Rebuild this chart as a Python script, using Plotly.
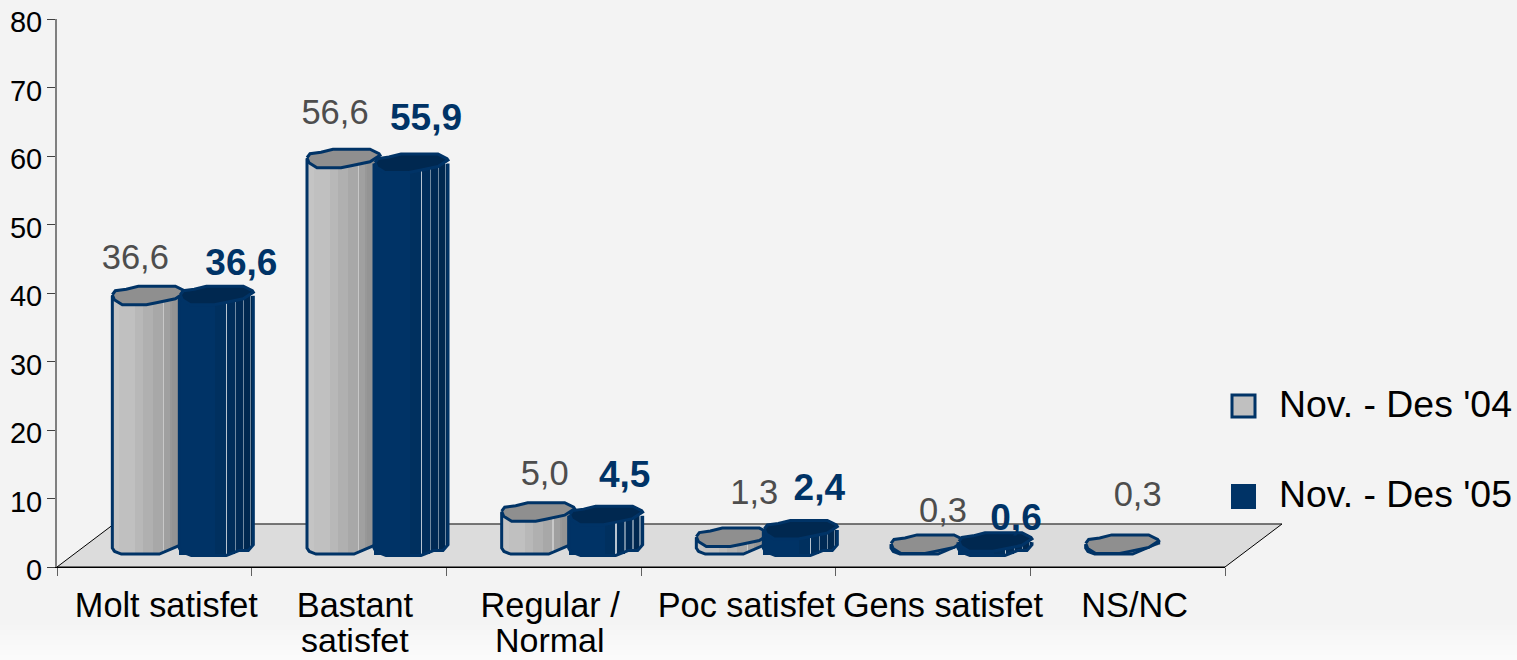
import numpy as np
import plotly.graph_objects as go

categories = ["Molt satisfet", "Bastant", "Regular /", "Poc satisfet", "Gens satisfet", "NS/NC"]
category_line2 = ["", "satisfet", "Normal", "", "", ""]
series_names = ["Nov. - Des '04", "Nov. - Des '05"]
values_04 = [36.6, 56.6, 5.0, 1.3, 0.3, 0.3]
values_05 = [36.6, 55.9, 4.5, 2.4, 0.6, None]
y_ticks = [0, 10, 20, 30, 40, 50, 60, 70, 80]

# layout constants (pixels)
W, H = 1517, 660
L, R, T, B = 57, 1225, 19, 567
PX_X = (R - L) / 6
PX_Y = (B - T) / 80
FLOOR_LIFT = 3.0            # value-units the 3D bars stand above the axis
NAVY, GREY = "#003366", "#c0c0c0"

# label placement relative to the bar (px along category, value units above bar)
label_dx_04 = [-19, -14, 1, 16, 10, 10]
label_lift_04 = [8.1, 9.3, 8.3, 9.1, 7.5, 9.8]
label_dx_05 = [87, 77, 81, 81, 83, 0]
label_lift_05 = [7.4, 9.3, 8.5, 8.7, 6.2, 0]
tick_label_dx = [12, 6, 6.5, 8, 10, 7]

# 3D silhouette, px relative to the bar centre
cap = [(-36, -1), (-33, -5), (-22, -6.5), (-10, -9.5), (27, -9.5), (36, -5), (37, -3.5),
       (27, 3), (8, 7), (-2, 9), (-26, 9), (-34, 4), (-36, -1)]
lower_04 = [(-36, 1.7), (-33.7, 5), (-27, 7.6), (11, 7.6), (23, 2.7), (37, -3.5)]
lower_05 = [(-37, 1.7), (-35, 5), (-25, 9), (10, 9), (23, 4), (32, 4), (37, -1.7)]

strips_04 = [(-36, -29, "#c4c4c4"), (-29, -13, "#c0c0c0"), (-13, -5, "#b8b8b8"), (-5, 5, "#b0b0b0"),
             (5, 15, "#a8a8a8"), (15, 16, "#c8c8c8"), (16, 22, "#a0a0a0"), (22, 24, "#989898"),
             (24, 30, "#949494"), (30, 37, "#8c8c8c")]
strips_05 = [(-37, -1, "#003366"), (-1, 10, "#00305f"), (10, 11, "#b8c4d0"), (11, 19, "#002d5a"),
             (19, 20, "#6f88a0"), (20, 27, "#002a55"), (27, 28, "#6f88a0"), (28, 34, "#002850"),
             (34, 35, "#6f88a0"), (35, 37, "#002548")]
bottom_bands = ["#f4f4f4", "#f5f5f5", "#f6f6f6", "#f7f7f7", "#f8f8f8", "#f9f9f9", "#fafafa", "#fbfbfb"]


def fmt(v):
    return f"{v:.1f}".replace(".", ",")


def cx(i, off):
    return i + off / PX_X


def lift(px):
    return -px / PX_Y


def add_series(fig, values, name, centre_px, half, strips, lower, face, cap_col, xa, ya, txtcol, bold, dxs, lifts):
    ids = [i for i, v in enumerate(values) if v is not None]
    vals = [values[i] for i in ids]
    fig.add_trace(go.Bar(x=[cx(i, centre_px) for i in ids], y=vals, base=[FLOOR_LIFT] * len(ids),
                         width=[2 * half / PX_X] * len(ids), marker=dict(color=face, line=dict(width=0)),
                         name=name, xaxis=xa, yaxis=ya, showlegend=False))
    lx, ly = zip(*lower)
    for a, b, col in strips:
        m = (a + b) / 2
        fig.add_trace(go.Bar(x=[cx(i, centre_px + m) for i in ids],
                             y=[v - lift(float(np.interp(m, lx, ly))) for v in vals],
                             base=[FLOOR_LIFT + lift(float(np.interp(m, lx, ly)))] * len(ids),
                             width=[(b - a) / PX_X] * len(ids), marker=dict(color=col, line=dict(width=0)),
                             xaxis=xa, yaxis=ya, showlegend=False, hoverinfo="skip"))
    ox, oy, cxs, cys = [], [], [], []
    for i, v in zip(ids, vals):
        top = FLOOR_LIFT + v
        pts = [(lower[0][0], top)] + [(p, FLOOR_LIFT + lift(q)) for p, q in lower] + [(lower[-1][0], top)]
        ox += [cx(i, centre_px + p) for p, _ in pts] + [None]
        oy += [q for _, q in pts] + [None]
        cxs += [cx(i, centre_px + p) for p, _ in cap] + [None]
        cys += [top + lift(q) for _, q in cap] + [None]
    fig.add_trace(go.Scatter(x=ox, y=oy, mode="lines", line=dict(color=NAVY, width=3), xaxis=xa, yaxis=ya,
                             showlegend=False, hoverinfo="skip", cliponaxis=False, connectgaps=False))
    fig.add_trace(go.Scatter(x=cxs, y=cys, mode="lines", fill="toself", fillcolor=cap_col,
                             line=dict(color=NAVY, width=3), xaxis=xa, yaxis=ya,
                             showlegend=False, hoverinfo="skip", cliponaxis=False))
    fig.add_trace(go.Scatter(x=[cx(i, dxs[i]) for i in ids], y=[values[i] + lifts[i] for i in ids],
                             text=[fmt(v) for v in vals], mode="text", xaxis=xa, yaxis=ya,
                             textfont=dict(family="Liberation Sans", size=37 if bold else 34.5, color=txtcol,
                                           weight="bold" if bold else "normal"),
                             textposition="middle center", showlegend=False, hoverinfo="skip", cliponaxis=False))


fig = go.Figure()
add_series(fig, values_04, series_names[0], -6, 36, strips_04, lower_04, GREY, "#8f8f8f", "x", "y", "#4d4d4d", False,
           label_dx_04, label_lift_04)
add_series(fig, values_05, series_names[1], 62, 37, strips_05, lower_05, NAVY, "#002850", "x2", "y2", NAVY, True,
           label_dx_05, label_lift_05)


def px(xv):
    return (xv - L) / (R - L)


def py(yv):
    return (B - yv) / (B - T)


floor_pts = [(L, B), (R, B), (1282, 524), (114, 524)]
path = "M " + " L ".join(f"{px(a):.5f},{py(b):.5f}" for a, b in floor_pts) + " Z"
band_h = 5
shapes = [dict(type="rect", xref="paper", yref="paper", x0=-L / (R - L), x1=(W - L) / (R - L),
               y0=py(620 + k * band_h), y1=py(620 + (k + 1) * band_h), fillcolor=c, line=dict(width=0), layer="below")
          for k, c in enumerate(bottom_bands)]
shapes += [dict(type="path", path=path, xref="paper", yref="paper", fillcolor="#dcdcdc",
                line=dict(color="#000000", width=1), layer="below"),
           dict(type="rect", xref="paper", yref="paper", x0=px(1232), x1=px(1255), y0=py(395), y1=py(417),
                fillcolor=GREY, line=dict(color=NAVY, width=3)),
           dict(type="rect", xref="paper", yref="paper", x0=px(1231), x1=px(1256), y0=py(484), y1=py(509),
                fillcolor=NAVY, line=dict(width=0))]
annotations = [dict(text=series_names[k], xref="paper", yref="paper", x=px(1277), y=py(yy), xanchor="left",
                    yanchor="middle", showarrow=False,
                    font=dict(family="Liberation Sans", size=37.4, color="#000000"))
               for k, yy in enumerate([404, 494])]
annotations += [dict(text=t, xref="x", yref="paper", x=cx(i, tick_label_dx[i]), y=py(640), xanchor="center",
                     yanchor="middle", showarrow=False, font=dict(family="Liberation Sans", size=34, color="#000000"))
                for i, t in enumerate(category_line2) if t]

axis_x = dict(range=[-0.5, 5.5], domain=[0, 1])
fig.update_layout(
    width=W, height=H, margin=dict(l=L, r=W - R, t=T, b=H - B, pad=0), autosize=False,
    paper_bgcolor="#f3f3f3", plot_bgcolor="rgba(0,0,0,0)", barmode="overlay", bargap=0,
    shapes=shapes, annotations=annotations, showlegend=False,
    xaxis=dict(**axis_x, tickmode="array", tickvals=[cx(i, tick_label_dx[i]) for i in range(6)], ticktext=categories,
               ticks="", showgrid=False, zeroline=False, showline=True, linecolor="#000000", linewidth=1,
               automargin=False,
               tickfont=dict(family="Liberation Sans", size=34.3, color="#000000"), ticklabelstandoff=8,
               minor=dict(tickmode="array", tickvals=[i - 0.5 for i in range(7)], ticks="outside", ticklen=8,
                          tickcolor="#606060", tickwidth=1, showgrid=False)),
    yaxis=dict(range=[0, 80], tickmode="array", tickvals=y_ticks, ticks="outside", ticklen=8, tickcolor="#404040",
               showgrid=False, zeroline=False, showline=True, linecolor="#7f7f7f", linewidth=2, automargin=False,
               tickfont=dict(family="Liberation Sans", size=29, color="#000000"), ticklabelstandoff=-1,
               ticklabelshift=3),
    xaxis2=dict(**axis_x, overlaying="x", visible=False),
    yaxis2=dict(range=[0, 80], overlaying="y", visible=False),
)
fig.write_html("out.html", config=dict(displayModeBar=False),
               post_script="document.body.style.margin='0';document.body.style.overflow='hidden';")
